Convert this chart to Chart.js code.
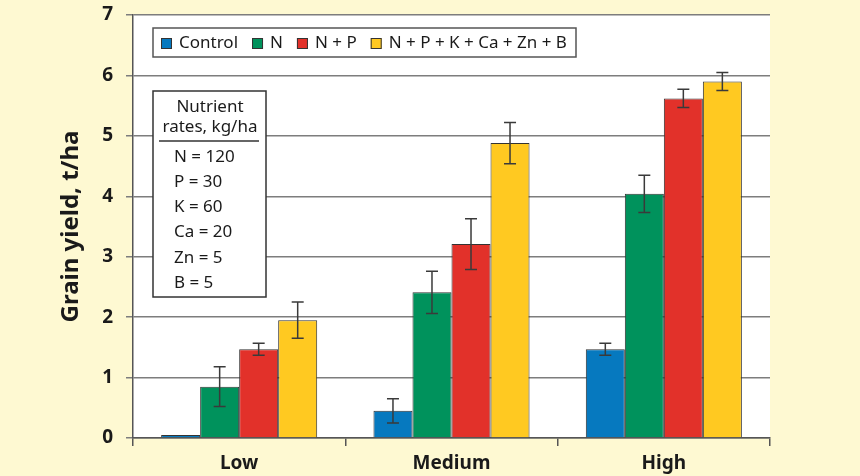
<!DOCTYPE html>
<html><head><meta charset="utf-8">
<script src="https://cdn.jsdelivr.net/npm/chart.js@4.4.1/dist/chart.umd.min.js"></script>
<style>html,body{margin:0;padding:0;background:#FEF9D2;}canvas{display:block;}</style>
</head><body>
<canvas id="c" width="860" height="476"></canvas>
<script>
const categories = ['Low', 'Medium', 'High'];
const seriesNames = ['Control', 'N', 'N + P', 'N + P + K + Ca + Zn + B'];
const seriesColors = ['#0679BF', '#00925C', '#E2312A', '#FFC921'];
const control = [0.05, 0.45, 1.47];
const nOnly = [0.85, 2.41, 4.04];
const nP = [1.47, 3.21, 5.62];
const nPFull = [1.95, 4.88, 5.90];
const errControl = [0, 0.2, 0.1];
const errN = [0.33, 0.35, 0.31];
const errNP = [0.1, 0.42, 0.15];
const errFull = [0.3, 0.34, 0.15];
const yTicks = [0, 1, 2, 3, 4, 5, 6, 7];
const noteTitle = ['Nutrient', 'rates, kg/ha'];
const noteLines = ['N = 120', 'P = 30', 'K = 60', 'Ca = 20', 'Zn = 5', 'B = 5'];

const values = [control, nOnly, nP, nPFull];
const errors = [errControl, errN, errNP, errFull];
const FONT = "'Noto Sans', 'DejaVu Sans', sans-serif";

const bgPlugin = {
  id: 'bg',
  beforeDraw(chart) {
    const {ctx, chartArea: a} = chart;
    ctx.save();
    ctx.fillStyle = '#FEF9D2';
    ctx.fillRect(0, 0, chart.width, chart.height);
    ctx.fillStyle = '#FFFFFF';
    ctx.fillRect(a.left, a.top, a.right - a.left, a.bottom - a.top);
    ctx.restore();
  }
};

const errPlugin = {
  id: 'errbars',
  afterDatasetsDraw(chart) {
    const {ctx} = chart;
    const ys = chart.scales.y;
    ctx.save();
    ctx.strokeStyle = '#3a3a3a';
    ctx.lineWidth = 1.5;
    chart.data.datasets.forEach((ds, di) => {
      const meta = chart.getDatasetMeta(di);
      meta.data.forEach((bar, i) => {
        const e = errors[di][i];
        if (!e) return;
        const v = ds.data[i];
        const x = bar.x;
        const y1 = ys.getPixelForValue(v + e);
        const y2 = ys.getPixelForValue(v - e);
        ctx.beginPath();
        ctx.moveTo(x, y1); ctx.lineTo(x, y2);
        ctx.moveTo(x - 6, y1); ctx.lineTo(x + 6, y1);
        ctx.moveTo(x - 6, y2); ctx.lineTo(x + 6, y2);
        ctx.stroke();
      });
    });
    ctx.restore();
  }
};

const boxesPlugin = {
  id: 'boxes',
  afterDraw(chart) {
    const {ctx} = chart;
    ctx.save();
    ctx.fillStyle = '#fff';
    ctx.strokeStyle = '#555';
    ctx.lineWidth = 1.5;
    ctx.fillRect(153, 28, 423, 29);
    ctx.strokeRect(153, 28, 423, 29);
    ctx.font = "17px " + FONT;
    ctx.textBaseline = 'middle';
    ctx.textAlign = 'left';
    let x = 161;
    chart.data.datasets.forEach((ds) => {
      ctx.fillStyle = ds.backgroundColor;
      ctx.fillRect(x, 38, 11, 11);
      ctx.strokeStyle = '#333';
      ctx.lineWidth = 1;
      ctx.strokeRect(x + 0.5, 38.5, 10, 10);
      ctx.fillStyle = '#1a1a1a';
      ctx.fillText(ds.label, x + 18, 43.5);
      x += 18 + ctx.measureText(ds.label).width + 14;
    });
    ctx.fillStyle = '#fff';
    ctx.strokeStyle = '#333';
    ctx.lineWidth = 1.5;
    ctx.fillRect(153, 91, 113, 206);
    ctx.strokeRect(153, 91, 113, 206);
    ctx.fillStyle = '#1a1a1a';
    ctx.font = "17px " + FONT;
    ctx.textAlign = 'center';
    ctx.fillText(noteTitle[0], 210, 107);
    ctx.fillText(noteTitle[1], 210, 127);
    ctx.beginPath();
    ctx.moveTo(159, 141); ctx.lineTo(259, 141);
    ctx.strokeStyle = '#333';
    ctx.stroke();
    ctx.textAlign = 'left';
    noteLines.forEach((t, i) => ctx.fillText(t, 174, 157 + i * 25.2));
    ctx.restore();
  }
};

new Chart(document.getElementById('c'), {
  type: 'bar',
  data: {
    labels: categories,
    datasets: seriesNames.map((name, i) => ({
      label: name,
      data: values[i],
      backgroundColor: seriesColors[i],
      borderColor: '#333333',
      borderWidth: 1,
      barPercentage: 1.0,
      categoryPercentage: 0.735
    }))
  },
  options: {
    responsive: false,
    animation: false,
    devicePixelRatio: 1,
    layout: {padding: {left: 0, top: 15, right: 90, bottom: 0}},
    plugins: {legend: {display: false}, tooltip: {enabled: false}},
    scales: {
      x: {
        grid: {drawOnChartArea: false, drawTicks: true, tickLength: 8, color: '#555', lineWidth: 1.5, offset: true},
        border: {color: '#555', width: 1.5},
        ticks: {color: '#1a1a1a', font: {family: FONT, size: 19, weight: 'bold'}, padding: 6},
        afterFit(s) { s.height = 38; s.paddingLeft = 0; s.paddingRight = 0; }
      },
      y: {
        min: 0, max: 7,
        afterBuildTicks(s) { s.ticks = yTicks.map(v => ({value: v})); },
        grid: {color: '#7d7d7d', lineWidth: 1.5, tickLength: 7},
        border: {color: '#555', width: 1.5},
        ticks: {color: '#1a1a1a', font: {family: FONT, size: 19, weight: 'bold'}, padding: 13},
        title: {display: true, text: 'Grain yield, t/ha', color: '#1a1a1a', font: {family: FONT, size: 24, weight: 'bold'}, padding: {top: 57, bottom: 0}},
        afterFit(s) { s.width = 133; s.paddingTop = 0; s.paddingBottom = 0; }
      }
    }
  },
  plugins: [bgPlugin, errPlugin, boxesPlugin]
});
</script>
</body></html>
